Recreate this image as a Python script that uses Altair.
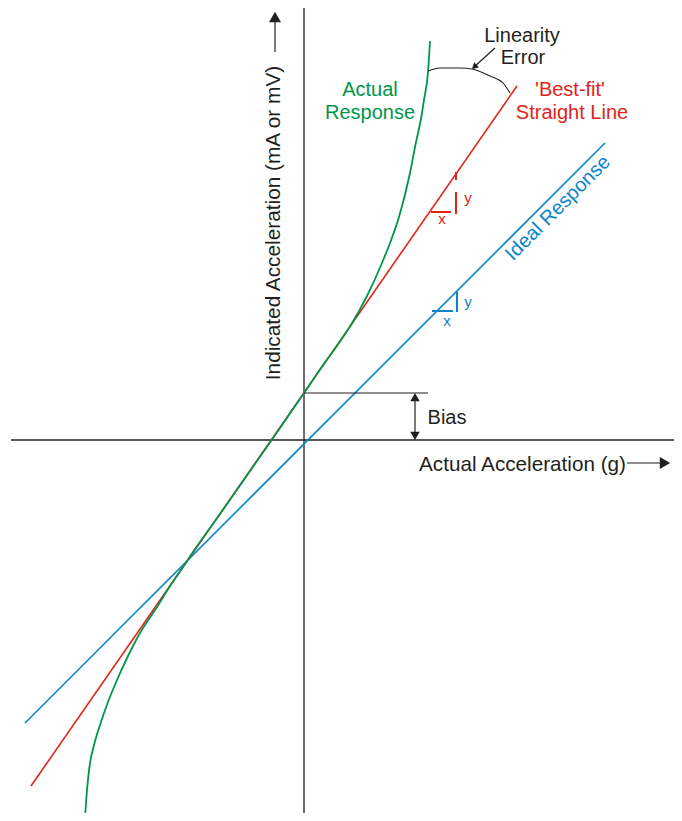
import altair as alt
import pandas as pd

# ---- data (chart units: g on x, mA/mV on y) ----
X_DOMAIN = [-5.92, 7.4]
Y_DOMAIN = [-7.46, 8.64]

axis_h_x = [-5.86, 7.56]
axis_v_y = [-7.62, 8.68]

ideal_x = [-5.58, 6.02]
ideal_y = [-5.66, 5.94]

fit_x = [-5.46, 4.26]
fit_y = [-6.92, 7.08]
bias = 0.94

actual_x = [2.52, 2.48, 2.40, 2.36, 2.22, 2.12, 1.90, 1.72, 1.56, 1.26, 0.92, 0.72, 0.32, 0.00,
            -0.48, -1.08, -1.68, -2.22, -2.42, -2.68, -2.94, -3.28, -3.52, -3.74, -3.92,
            -4.08, -4.20, -4.28, -4.34, -4.38]
actual_y = [7.98, 7.36, 6.80, 6.54, 5.86, 5.34, 4.46, 3.94, 3.54, 2.88, 2.27, 1.97, 1.41, 0.94,
            0.24, -0.62, -1.48, -2.24, -2.54, -2.92, -3.34, -3.86, -4.32, -4.80, -5.24,
            -5.70, -6.10, -6.46, -7.00, -7.56]

arc_x = [2.48, 2.72, 3.12, 3.36, 3.72, 3.98, 4.12]
arc_y = [7.38, 7.44, 7.44, 7.42, 7.28, 7.14, 6.94]

GREEN = "#00964a"
RED = "#e2231a"
BLUE = "#0a84c8"
BLACK = "#231f20"
FONT = "Liberation Sans"

xs = alt.Scale(domain=X_DOMAIN, nice=False, zero=False)
ys = alt.Scale(domain=Y_DOMAIN, nice=False, zero=False)


def X(f="x"):
    return alt.X(f"{f}:Q", scale=xs, axis=None)


def Y(f="y"):
    return alt.Y(f"{f}:Q", scale=ys, axis=None)


def segs(rows):
    return pd.DataFrame(rows, columns=["x", "y", "x2", "y2"])


def rules(rows, color, width):
    return alt.Chart(segs(rows)).mark_rule(color=color, strokeWidth=width, clip=True).encode(
        x=X(), y=Y(), x2="x2:Q", y2="y2:Q")


def texts(rows, color, size, align="center", angle=0, baseline="middle"):
    df = pd.DataFrame(rows, columns=["x", "y", "label"])
    return alt.Chart(df).mark_text(color=color, fontSize=size, font=FONT, align=align,
                                   baseline=baseline, angle=angle).encode(
        x=X(), y=Y(), text="label:N")


def heads(rows, shape, size, angle=0, color=BLACK):
    df = pd.DataFrame(rows, columns=["x", "y"])
    return alt.Chart(df).mark_point(shape=shape, size=size, filled=True, opacity=1,
                                    color=color, angle=angle, strokeWidth=0).encode(
        x=X(), y=Y())


axes = rules([
    [axis_h_x[0], 0, axis_h_x[1], 0],
    [0, axis_v_y[0], 0, axis_v_y[1]],
], BLACK, 1.3)

ideal = alt.Chart(pd.DataFrame({"x": ideal_x, "y": ideal_y})).mark_line(
    color=BLUE, strokeWidth=1.6, clip=True).encode(x=X(), y=Y())
fit = alt.Chart(pd.DataFrame({"x": fit_x, "y": fit_y})).mark_line(
    color=RED, strokeWidth=1.6, clip=True).encode(x=X(), y=Y())
actual = alt.Chart(pd.DataFrame({"x": actual_x, "y": actual_y})).mark_line(
    color=GREEN, strokeWidth=1.8, interpolate="monotone", clip=True).encode(x=X(), y=Y())
arc = alt.Chart(pd.DataFrame({"x": arc_x, "y": arc_y})).mark_line(
    color=BLACK, strokeWidth=1.1, interpolate="monotone", clip=True).encode(x=X(), y=Y())

# slope triangles
red_tri = rules([
    [2.54, 4.56, 2.94, 4.56],
    [3.04, 5.36, 3.04, 5.20],
    [3.04, 4.96, 3.04, 4.52],
], RED, 2)
blue_tri = rules([
    [2.56, 2.58, 2.98, 2.58],
    [3.06, 2.96, 3.06, 2.56],
], BLUE, 2)

# bias markers and arrows
black_rules = rules([
    [0, bias, 2.48, bias],
    [2.22, 0.1, 2.22, 0.84],
    [3.82, 7.84, 3.40, 7.46],
    [6.46, -0.46, 7.12, -0.46],
    [-0.58, 7.76, -0.58, 8.4],
], BLACK, 1.2)

up_heads = heads([[2.22, 0.858]], "triangle-up", 90)
y_head = heads([[-0.58, 8.46]], "triangle-up", 144)
down_heads = heads([[2.22, 0.082]], "triangle-down", 90)
right_head = heads([[7.22, -0.46]], "triangle-right", 144)
lin_head = heads([[3.405, 7.462]], "triangle-up", 50, angle=228)

labels = alt.layer(
    texts([[1.32, 7.0, "Actual"], [1.32, 6.54, "Response"]], GREEN, 20),
    texts([[5.32, 7.0, "'Best-fit'"], [5.36, 6.54, "Straight Line"]], RED, 20),
    texts([[4.36, 8.08, "Linearity"], [4.38, 7.64, "Error"]], BLACK, 20),
    texts([[5.08, 4.64, "Ideal Response"]], BLUE, 20, angle=315),
    texts([[3.28, 4.84, "y"], [2.76, 4.42, "x"]], RED, 15),
    texts([[3.28, 2.76, "y"], [2.86, 2.38, "x"]], BLUE, 15),
    texts([[2.86, 0.44, "Bias"]], BLACK, 20),
    texts([[2.30, -0.5, "Actual Acceleration (g)"]], BLACK, 20.7, align="left"),
    texts([[-0.6, 4.34, "Indicated Acceleration (mA or mV)"]], BLACK, 20.8, angle=270),
)

chart = alt.layer(
    axes, ideal, fit, actual, arc, red_tri, blue_tri, black_rules,
    y_head, up_heads, down_heads, right_head, lin_head, labels,
).properties(
    width=666, height=805, padding=0,
    autosize=alt.AutoSizeParams(type="none"),
).configure_view(strokeWidth=0)

chart.save("out.html", embed_options={"renderer": "svg", "actions": False})
